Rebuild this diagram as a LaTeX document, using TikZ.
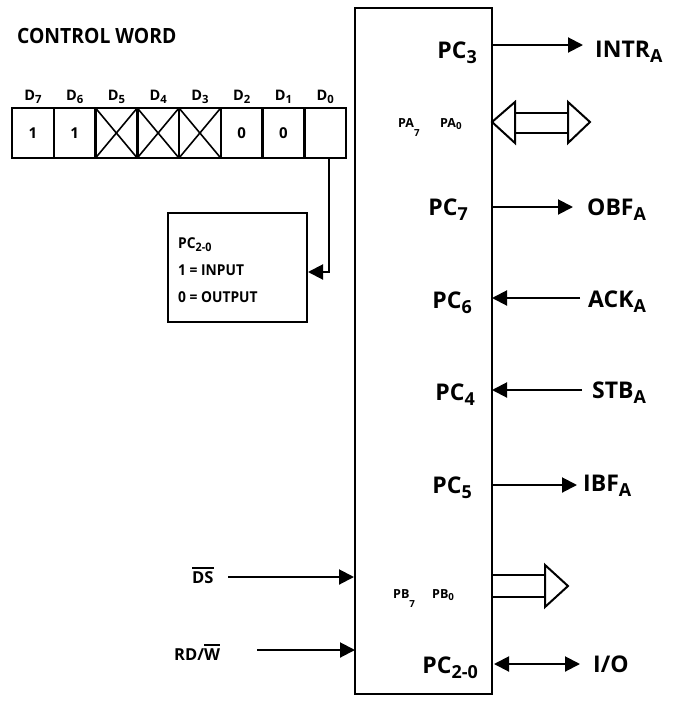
\documentclass[tikz,border=0pt]{standalone}
\usepackage{fontspec}
\usepackage{graphicx}
\setmainfont{Open Sans}
\newfontfamily\fnarrow{Open Sans}[FakeStretch=0.92]
\usetikzlibrary{arrows.meta}
\newcommand{\lsub}[2][-0.22em]{\raisebox{#1}{\scalebox{0.78}{#2}}}
\newsavebox{\ovlbox}
\newcommand{\ovl}[1]{\sbox{\ovlbox}{#1}\rlap{\raisebox{\dimexpr\ht\ovlbox+2.5pt\relax}{\rule{\wd\ovlbox}{1.8pt}}}\usebox{\ovlbox}}
\begin{document}
\begin{tikzpicture}[x=1pt,y=-1pt,
  big/.style={font=\bfseries\fontsize{23}{26}\selectfont, inner sep=0pt},
  tiny/.style={font=\bfseries\fontsize{12.5}{14}\selectfont, inner sep=0pt, anchor=base west},
  mid/.style={font=\bfseries\fontsize{16.5}{18}\selectfont, inner sep=0pt, anchor=base west},
  note/.style={font=\fnarrow\bfseries\fontsize{15}{17}\selectfont, inner sep=0pt, anchor=base west},
  bitlbl/.style={font=\bfseries\fontsize{14.5}{16}\selectfont, inner sep=0pt, anchor=base},
  bitval/.style={font=\bfseries\fontsize{15}{16}\selectfont, inner sep=0pt, anchor=base},
  cell/.style={draw, line width=2.5pt, minimum width=41.75pt, minimum height=50pt, inner sep=0pt, outer sep=0pt, anchor=north west},
  sig/.style={line width=2pt, -{Triangle[length=15pt,width=15pt]}},
  bisig/.style={line width=2pt, {Triangle[length=15pt,width=15pt]}-{Triangle[length=15pt,width=15pt]}},
  bus/.style={line width=2pt, line join=miter},
]
\useasboundingbox (0,0) rectangle (678,702);

% title
\node[font=\fnarrow\bfseries\fontsize{21}{24}\selectfont, inner sep=0pt, anchor=base west] (title) at (17,43) {CONTROL WORD};

% control register
\foreach \i/\n in {0/7,1/6,2/5,3/4,4/3,5/2,6/1,7/0}{
  \node[cell] (c\n) at (12+41.75*\i,108) {};
  \node[bitlbl] (b\n) at (12+41.75*\i+20.9,100) {D\lsub{\n}};
}
\node[bitval] (v7) at (c7.center) [yshift=-5pt] {1};
\node[bitval] (v6) at (c6.center) [yshift=-5pt] {1};
\node[bitval] (v2) at (c2.center) [yshift=-5pt] {0};
\node[bitval] (v1) at (c1.center) [yshift=-5pt] {0};
\foreach \n in {5,4,3}{
  \draw[line width=1.6pt] (c\n.north west) -- (c\n.south east) (c\n.south west) -- (c\n.north east);
}

% mode box
\node[draw, line width=2pt, minimum width=139pt, minimum height=109pt, inner sep=0pt, outer sep=0pt] (modebox) at (237.5,267.5) {};
\node[note] (m1) at (178,248) {PC\lsub{2-0}};
\node[note] (m2) at (178,275) {1 = INPUT};
\node[note] (m3) at (178,302) {0 = OUTPUT};
\coordinate (tap) at (329,158);
\coordinate (tapend) at (308,272);
\draw[sig] (tap) |- (tapend);

% main block
\node[draw, line width=2pt, minimum width=137pt, minimum height=686pt, inner sep=0pt, outer sep=0pt] (chip) at (423.5,351) {};

% pin labels inside
\node[big, anchor=base east] (pc3) at (477,58) {PC\lsub{3}};
\node[tiny] (pa7) at (398,127) {PA\lsub[-0.75em]{7}};
\node[tiny] (pa0) at (440,127) {PA\lsub{0}};
\node[big, anchor=base east] (pc7) at (468,215) {PC\lsub{7}};
\node[big, anchor=base east] (pc6) at (472,308) {PC\lsub{6}};
\node[big, anchor=base east] (pc4) at (475,400) {PC\lsub{4}};
\node[big, anchor=base east] (pc5) at (472,493) {PC\lsub{5}};
\node[tiny] (pb7) at (393,598) {PB\lsub[-0.75em]{7}};
\node[tiny] (pb0) at (432,598) {PB\lsub{0}};
\node[big, anchor=base east] (pc20) at (478,673) {PC\lsub{2-0}};

% outside labels
\node[big, anchor=base west] (intr) at (595,57) {INTR\lsub{A}};
\node[big, anchor=base west] (obf) at (587,215) {OBF\lsub{A}};
\node[big, anchor=base west] (ack) at (588,307) {ACK\lsub{A}};
\node[big, anchor=base west] (stb) at (592,398) {STB\lsub{A}};
\node[big, anchor=base west] (ibf) at (583,491) {IBF\lsub{A}};
\node[big, anchor=base west] (io) at (593,672) {I/O};
\node[mid] (ds) at (192,583) {\ovl{DS}};
\node[mid] (rdw) at (174,660) {RD/\ovl{W}};

% signal connectors
\coordinate (p3) at (492,45);   \coordinate (p3e) at (583,45);
\coordinate (p7) at (492,207);  \coordinate (p7e) at (573,207);
\coordinate (p6) at (492,298);  \coordinate (p6e) at (580,298);
\coordinate (p4) at (492,390);  \coordinate (p4e) at (582,390);
\coordinate (p5) at (492,485);  \coordinate (p5e) at (577,485);
\coordinate (pio) at (494,664); \coordinate (pioe) at (580,664);
\coordinate (dsa) at (228,577); \coordinate (dsb) at (354,577);
\coordinate (rwa) at (257,650); \coordinate (rwb) at (355,650);

\draw[sig] (p3) -- (p3e);
\draw[sig] (p7) -- (p7e);
\draw[sig] (p6e) -- (p6);
\draw[sig] (p4e) -- (p4);
\draw[sig] (p5) -- (p5e);
\draw[bisig] (pio) -- (pioe);
\draw[sig] (dsa) -- (dsb);
\draw[sig] (rwa) -- (rwb);

% port A bus (bidirectional open arrow)
\draw[bus] (515,102) -- (492,122) -- (515,143) -- cycle;
\draw[bus] (568,102) -- (590,122) -- (568,143) -- cycle;
\draw[bus] (515,113) -- (568,113) (515,133) -- (568,133);

% port B bus (output open arrow)
\draw[bus] (492,575) -- (545,575) (492,597) -- (545,597);
\draw[bus] (545,565) -- (568,586) -- (545,607) -- cycle;
\end{tikzpicture}
\end{document}
